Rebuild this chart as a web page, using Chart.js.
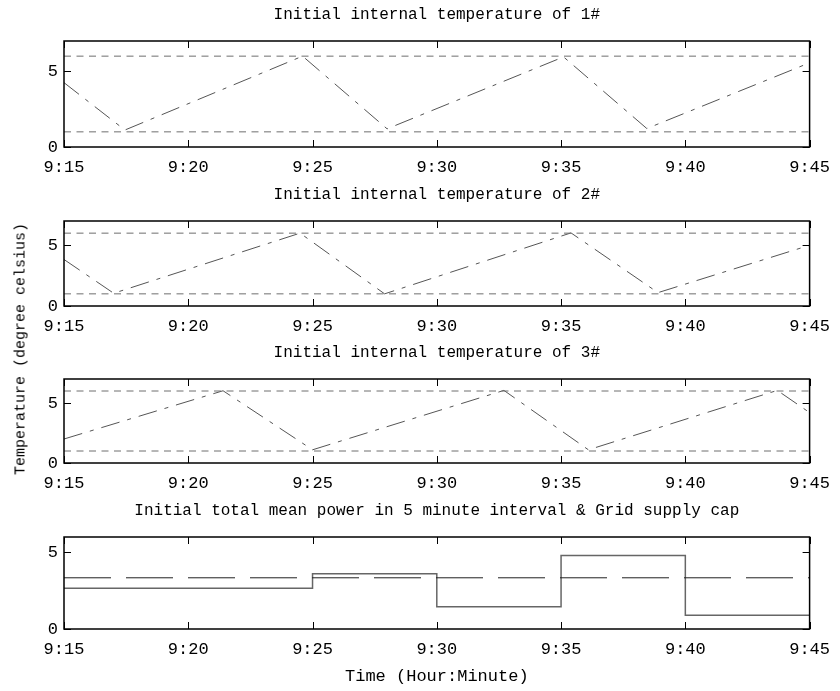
<!DOCTYPE html>
<html>
<head>
<meta charset="utf-8">
<script src="https://cdn.jsdelivr.net/npm/chart.js@4.4.1/dist/chart.umd.min.js"></script>
<style>
  body { margin: 0; background: #fff; }
  #wrap { position: relative; width: 840px; height: 691px; }
  #wrap canvas { position: absolute; left: 0; }
  #ylab {
    position: absolute; left: 21px; top: 349px;
    transform: translate(-50%, -50%) rotate(-90deg);
    font: 15px "Liberation Mono"; color: #000; white-space: nowrap;
  }
</style>
</head>
<body>
<div id="wrap">
  <canvas id="c1" width="840" height="177" style="top:0px"></canvas>
  <canvas id="c2" width="840" height="156" style="top:180px"></canvas>
  <canvas id="c3" width="840" height="155" style="top:338px"></canvas>
  <canvas id="c4" width="840" height="195" style="top:496px"></canvas>
  <div id="ylab">Temperature (degree celsius)</div>
</div>
<script>
// time axis in minutes after 9:00
const tickTimes = [15, 20, 25, 30, 35, 40, 45];
const limitTimes = [15, 45];
const upperLimit = [6, 6];
const lowerLimit = [1, 1];

const temp1Times = [15, 17.45, 24.6, 28.0, 35.1, 38.45, 45];
const temp1Values = [4.25, 1.12, 6.0, 1.2, 5.95, 1.22, 5.56];
const temp2Times = [15, 17.0, 24.5, 27.9, 35.4, 38.9, 45];
const temp2Values = [3.83, 1.05, 6.0, 1.0, 6.02, 1.1, 5.0];
const temp3Times = [15, 21.4, 25.0, 32.7, 36.1, 43.7, 45];
const temp3Values = [2.0, 6.02, 1.1, 6.05, 1.1, 6.05, 4.2];

// mean power of each 5 minute interval (value holds until the next time)
const powerTimes = [15, 20, 25, 30, 35, 40, 45];
const powerValues = [2.66, 2.66, 3.6, 1.45, 4.8, 0.89, 0.89];
const capTimes = [15, 45];
const capValues = [3.34, 3.34];

const FONT = "Liberation Mono";

function pts(xs, ys) {
  return xs.map((x, i) => ({ x: x, y: ys[i] }));
}

// box round the plot with inward ticks
const framePlugin = {
  id: 'frame',
  afterDatasetsDraw(chart) {
    const ctx = chart.ctx;
    const a = chart.chartArea;
    const x = chart.scales.x, y = chart.scales.y;
    ctx.save();
    ctx.strokeStyle = '#000';
    ctx.lineWidth = 1;
    ctx.beginPath();
    x.ticks.forEach(t => {
      const px = Math.round(x.getPixelForValue(t.value)) + 0.5;
      ctx.moveTo(px, a.bottom); ctx.lineTo(px, a.bottom - 7);
      ctx.moveTo(px, a.top); ctx.lineTo(px, a.top + 7);
    });
    y.ticks.forEach(t => {
      const py = Math.round(y.getPixelForValue(t.value)) + 0.5;
      ctx.moveTo(a.left, py); ctx.lineTo(a.left + 7, py);
      ctx.moveTo(a.right, py); ctx.lineTo(a.right - 7, py);
    });
    ctx.stroke();
    ctx.lineWidth = 1.5;
    ctx.strokeRect(a.left, a.top, a.right - a.left, a.bottom - a.top);
    ctx.restore();
  }
};

function makeChart(id, title, datasets, yMax, xHeight, xTitle) {
  return new Chart(document.getElementById(id), {
    type: 'line',
    data: { datasets: datasets },
    plugins: [framePlugin],
    options: {
      responsive: false,
      animation: false,
      devicePixelRatio: 1,
      layout: { padding: { left: 0, right: 26, top: 0, bottom: 0 } },
      elements: { point: { radius: 0 }, line: { tension: 0, fill: false } },
      plugins: {
        legend: { display: false },
        tooltip: { enabled: false },
        title: {
          display: true, text: title, fullSize: false, color: '#000',
          font: { family: FONT, size: 16, weight: 'normal', lineHeight: 1.2 },
          padding: { top: 5, bottom: 16.8 }
        }
      },
      scales: {
        x: {
          type: 'linear', min: 15, max: 45,
          grid: { display: false, drawTicks: false },
          border: { display: false },
          afterBuildTicks: s => { s.ticks = tickTimes.map(v => ({ value: v })); },
          afterFit: s => { s.height = xHeight; },
          ticks: {
            padding: 10, color: '#000', maxRotation: 0, autoSkip: false,
            font: { family: FONT, size: 17 },
            callback: v => '9:' + v
          },
          title: {
            display: !!xTitle, text: xTitle || '', color: '#000',
            font: { family: FONT, size: 17, lineHeight: 1.2 },
            padding: { top: 0, bottom: 4 }
          }
        },
        y: {
          min: 0, max: yMax,
          grid: { display: false, drawTicks: false },
          border: { display: false },
          afterBuildTicks: s => { s.ticks = [{ value: 0 }, { value: 5 }]; },
          afterFit: s => { s.width = 64; },
          ticks: { padding: 6, color: '#000', font: { family: FONT, size: 17 } }
        }
      }
    }
  });
}

function tempSets(times, values) {
  return [
    { data: pts(limitTimes, upperLimit), borderColor: '#6e6e6e', borderWidth: 1, borderDash: [7, 5.5] },
    { data: pts(limitTimes, lowerLimit), borderColor: '#6e6e6e', borderWidth: 1, borderDash: [7, 5.5] },
    { data: pts(times, values), borderColor: '#555', borderWidth: 1, borderDash: [19, 8, 4, 8] }
  ];
}

makeChart('c1', 'Initial internal temperature of 1#', tempSets(temp1Times, temp1Values), 7, 30);
makeChart('c2', 'Initial internal temperature of 2#', tempSets(temp2Times, temp2Values), 7, 30);
makeChart('c3', 'Initial internal temperature of 3#', tempSets(temp3Times, temp3Values), 7, 30);
makeChart('c4', 'Initial total mean power in 5 minute interval & Grid supply cap', [
  { data: pts(capTimes, capValues), borderColor: '#222', borderWidth: 1, borderDash: [47, 15] },
  { data: pts(powerTimes, powerValues), borderColor: '#666', borderWidth: 1.5, stepped: 'before' }
], 6, 62, 'Time (Hour:Minute)');
</script>
</body>
</html>
